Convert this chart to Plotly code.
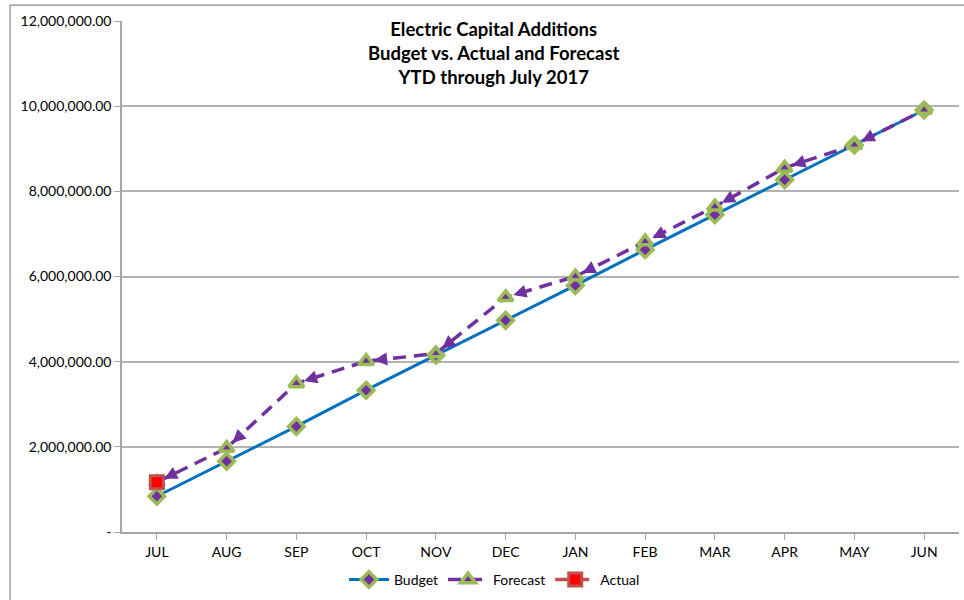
import plotly.graph_objects as go

# Month labels for the fiscal year (July through June)
months = ["JUL", "AUG", "SEP", "OCT", "NOV", "DEC", "JAN", "FEB", "MAR", "APR", "MAY", "JUN"]

# Cumulative capital additions ($)
budget = [840000, 1660000, 2480000, 3330000, 4150000, 4970000,
          5790000, 6630000, 7450000, 8270000, 9090000, 9910000]
forecast = [1170000, 1970000, 3490000, 4010000, 4190000, 5510000,
            6000000, 6820000, 7640000, 8550000, 9090000, 9910000]
actual = [1170000]

y_ticks = [0, 2000000, 4000000, 6000000, 8000000, 10000000, 12000000]
y_ticktext = ["-" if v == 0 else f"{v:,.2f}" for v in y_ticks]

BLUE = "#0070C0"
PURPLE = "#7030A0"
GREEN = "#9BBB59"
RED_LINE = "#C0504D"
FONT = "Lato"

x_idx = list(range(len(months)))

fig = go.Figure()

fig.add_trace(go.Scatter(
    x=x_idx, y=budget, name="Budget", mode="lines+markers",
    line=dict(color=BLUE, width=3),
    marker=dict(symbol="diamond", size=12, color=PURPLE,
                line=dict(color=GREEN, width=3.5)),
))

fig.add_trace(go.Scatter(
    x=x_idx, y=forecast, name="Forecast", mode="lines+markers",
    line=dict(color=PURPLE, width=3.5, dash="13px,8px"),
    marker=dict(symbol="triangle-up", size=13, color=PURPLE,
                line=dict(color=GREEN, width=3.5)),
))

fig.add_trace(go.Scatter(
    x=x_idx[:len(actual)], y=actual, name="Actual", mode="lines+markers",
    line=dict(color=RED_LINE, width=3.5, dash="13px,8px"),
    marker=dict(symbol="square", size=13, color="#FF0000",
                line=dict(color=RED_LINE, width=3)),
))

# Arrowheads at the start of each forecast segment, pointing back to the prior month
annotations = []
frac = 0.22
for i in range(1, len(forecast)):
    x0, y0 = x_idx[i - 1], forecast[i - 1]
    x1, y1 = x_idx[i], forecast[i]
    annotations.append(dict(
        x=x0, y=y0, xref="x", yref="y",
        ax=x0 + frac * (x1 - x0), ay=y0 + frac * (y1 - y0),
        axref="x", ayref="y",
        showarrow=True, arrowhead=2, arrowsize=0.75, arrowwidth=3.5,
        arrowcolor=PURPLE, standoff=8, text="",
    ))

annotations.append(dict(
    text="<b>Electric Capital Additions<br>Budget vs. Actual and Forecast<br>YTD through July 2017</b>",
    xref="paper", yref="paper", x=0.445, y=1.01, xanchor="center", yanchor="top",
    showarrow=False, font=dict(family=FONT, size=18.5, color="#000000"), align="center",
))

PL, PR, PT, PB = 122, 5, 21, 67
W, H = 964, 600
pw, ph = W - PL - PR, H - PT - PB

fig.update_layout(
    width=W, height=H,
    margin=dict(l=PL, r=PR, t=PT, b=PB),
    paper_bgcolor="white", plot_bgcolor="white",
    font=dict(family=FONT, size=14, color="#000000"),
    showlegend=True,
    legend=dict(orientation="h", x=0.445, xanchor="center",
                y=-(580 - (H - PB)) / ph, yanchor="middle",
                font=dict(family=FONT, size=14), itemwidth=40),
    annotations=annotations,
    shapes=[dict(type="rect", xref="paper", yref="paper",
                 x0=(10 - PL) / pw, x1=1 + 20 / pw,
                 y0=-(PB + 20) / ph, y1=1 + (PT - 5) / ph,
                 line=dict(color="#8C8C8C", width=1.2), fillcolor="rgba(0,0,0,0)")],
)

fig.update_xaxes(
    range=[-0.5, len(months) - 0.5],
    tickvals=x_idx, ticktext=months,
    showgrid=False, zeroline=False,
    showline=True, linecolor="#A6A6A6", linewidth=1.5,
    ticks="outside", ticklen=6, tickcolor="#A6A6A6",
    tickfont=dict(family=FONT, size=14),
)
fig.update_xaxes(tickson="boundaries")

fig.update_yaxes(
    range=[0, 12000000],
    tickvals=y_ticks, ticktext=y_ticktext,
    showgrid=True, gridcolor="#B3B3B3", gridwidth=1.5,
    zeroline=False,
    showline=True, linecolor="#A6A6A6", linewidth=1.5,
    ticks="outside", ticklen=6, tickcolor="#A6A6A6",
    tickfont=dict(family=FONT, size=14),
)

fig.write_html("out.html")
